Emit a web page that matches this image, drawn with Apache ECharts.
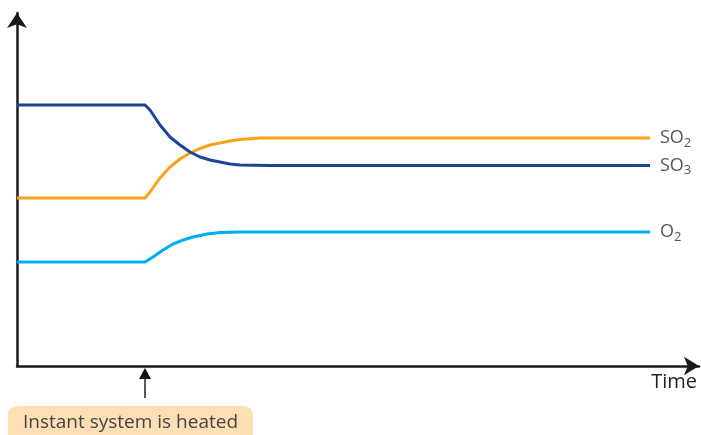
<!DOCTYPE html>
<html><head><meta charset="utf-8">
<script src="https://cdn.jsdelivr.net/npm/echarts@6/dist/echarts.min.js"></script>
<style>html,body{margin:0;padding:0;background:#fff}#c{width:701px;height:435px}</style>
</head><body><div id="c"></div>
<script>
// Time axis units (arbitrary), concentration units (arbitrary)
const heatTime = 128;
const so3 = [[0,261],[128,261],[133,256],[143,241],[153,229],[163,221],[173,214],[183,209],[193,206],[203,204],[213,202],[223,201],[253,200.5],[633,200.5]];
const so2 = [[0,168],[128,168],[133,174],[143,188],[153,199],[163,207],[173,213],[183,217.5],[193,221],[203,223],[213,225],[223,226.5],[243,228],[253,228],[633,228]];
const o2  = [[0,104],[128,104],[136,109],[146,116],[156,122],[166,126],[176,129],[190,132],[203,133.5],[223,134],[633,134]];
const seriesNames = ['SO2','SO3','O2'];
const seriesSub = [['SO','2'],['SO','3'],['O','2']];
const colors = ['#f7a21b','#1d4596','#00aeef'];
const annotation = 'Instant system is heated';
const xName = 'Time';

const chart = echarts.init(document.getElementById('c'));
const font = '"Open Sans", "Noto Sans", sans-serif';
function mk(i, data){
  return {
    name: seriesNames[i], type:'line', data, showSymbol:false, symbol:'none',
    smooth:false,
    lineStyle:{color:colors[i], width:3}, itemStyle:{color:colors[i]},
    endLabel:{show:true, distance:10,
      formatter: '{a|'+seriesSub[i][0]+'}{b|'+seriesSub[i][1]+'}',
      rich:{a:{fontSize:18,color:'#555',fontFamily:font,verticalAlign:'middle'},
            b:{fontSize:13,color:'#555',fontFamily:font,padding:[10,0,0,0]}}},
    animation:false
  };
}
chart.setOption({
  animation:false,
  grid:{left:17,right:2,top:13,bottom:69},
  xAxis:{type:'value',min:0,max:682,axisLine:{onZero:false,lineStyle:{color:'#1a1a1a',width:2.5},symbol:['none','arrow'],symbolSize:[14,15]},
    axisTick:{show:false},axisLabel:{show:false},splitLine:{show:false}},
  yAxis:{type:'value',min:0,max:353,axisLine:{show:true,onZero:false,lineStyle:{color:'#1a1a1a',width:2.5},symbol:['none','arrow'],symbolSize:[15,15]},
    axisTick:{show:false},axisLabel:{show:false},splitLine:{show:false}},
  series:[mk(0,so2),mk(1,so3),mk(2,o2)]
});
const px = chart.convertToPixel({gridIndex:0},[heatTime,0]);
chart.setOption({graphic:[
  {type:'text',right:4,top:372,style:{text:xName,fill:'#222',font:'20px '+font}},
  {type:'line',shape:{x1:px[0],y1:398,x2:px[0],y2:378},style:{stroke:'#222',lineWidth:1.5}},
  {type:'polygon',shape:{points:[[px[0],368],[px[0]-6,379],[px[0]+6,379]]},style:{fill:'#111'}},
  {type:'rect',shape:{x:8,y:406,width:245,height:40,r:9},style:{fill:'#fddfb5'}},
  {type:'text',x:130.5,y:413,style:{text:annotation,align:'center',verticalAlign:'top',fill:'#444',font:'19px '+font}}
]});
</script></body></html>
